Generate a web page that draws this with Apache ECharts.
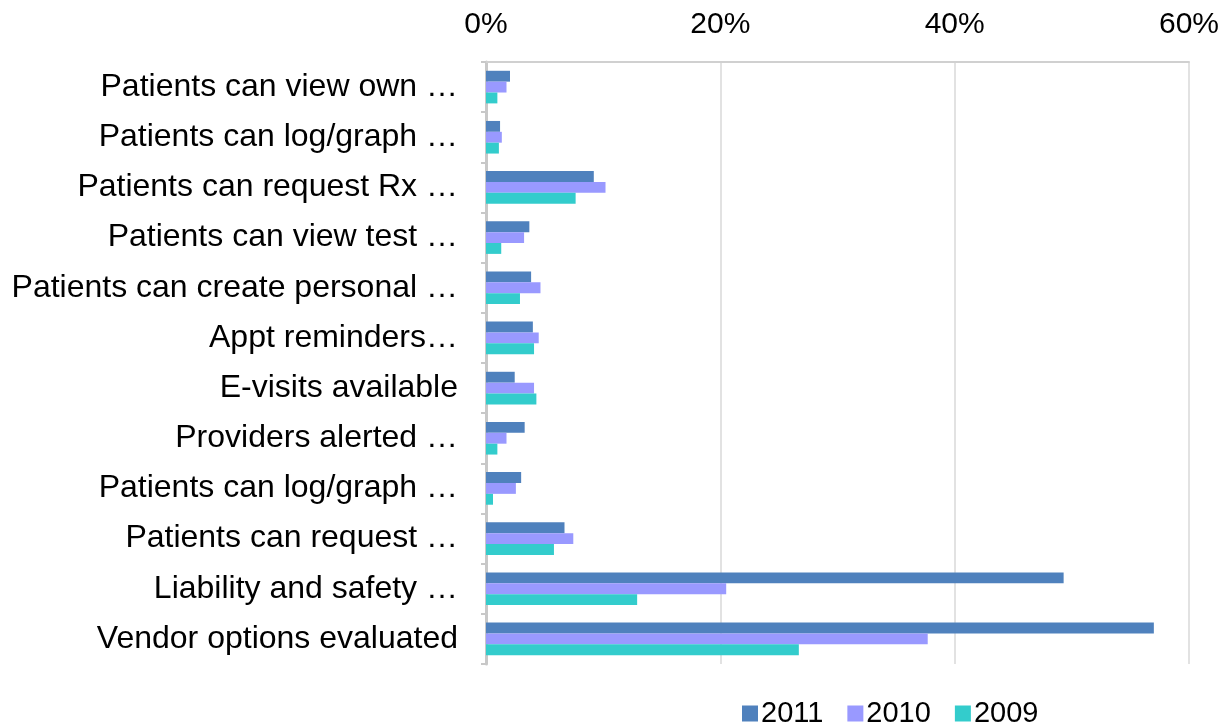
<!DOCTYPE html>
<html><head><meta charset="utf-8">
<script src="https://cdn.jsdelivr.net/npm/echarts@6/dist/echarts.min.js"></script>
<style>html,body{margin:0;padding:0;background:#fff}#c{width:1228px;height:726px}</style>
</head><body><div id="c"></div>
<script>
var categories = ["Patients can view own …","Patients can log/graph …","Patients can request Rx …","Patients can view test …","Patients can create personal …","Appt reminders…","E-visits available","Providers alerted …","Patients can log/graph …","Patients can request …","Liability and safety …","Vendor options evaluated"];
var s2011 = [2.05,1.2,9.2,3.7,3.85,4.0,2.45,3.3,3.0,6.7,49.3,57.0];
var s2010 = [1.75,1.35,10.2,3.25,4.65,4.5,4.1,1.75,2.55,7.45,20.5,37.7];
var s2009 = [0.97,1.1,7.65,1.3,2.9,4.1,4.3,0.97,0.6,5.8,12.9,26.7];
var seriesNames = ["2011","2010","2009"];
var colors = ["#4F81BD","#9999FF","#33CCCC"];
var font = "Liberation Sans, Arial, sans-serif";
var chart = echarts.init(document.getElementById('c'));
chart.setOption({
  animation:false,
  color: colors,
  textStyle:{fontFamily:font},
  grid:{left:486,right:39,top:62,bottom:62,containLabel:false},
  legend:{top:694,left:737,itemWidth:16,itemHeight:16,itemGap:24,icon:'rect',
    textStyle:{fontSize:29,color:'#000',fontFamily:font,padding:[0,0,0,-2]},data:seriesNames},
  xAxis:{type:'value',position:'top',min:0,max:60,interval:20,
    axisLabel:{formatter:'{value}%',fontSize:30,color:'#000',margin:22,fontFamily:font},
    axisLine:{show:true,lineStyle:{color:'#d0d0d0',width:2}},
    axisTick:{show:false},
    splitLine:{show:true,lineStyle:{color:'#d9d9d9',width:1.5}}},
  yAxis:{type:'category',inverse:true,data:categories,
    axisLabel:{fontSize:32,color:'#000',margin:28,fontFamily:font,padding:[12,0,0,0]},
    axisLine:{show:true,lineStyle:{color:'#c8c8c8',width:3}},
    axisTick:{show:true,length:5,lineStyle:{color:'#c8c8c8',width:2}}},
  series:[
    {name:seriesNames[0],type:'bar',data:s2011,barGap:'0%',barCategoryGap:'35%',itemStyle:{color:colors[0]}},
    {name:seriesNames[1],type:'bar',data:s2010,itemStyle:{color:colors[1]}},
    {name:seriesNames[2],type:'bar',data:s2009,itemStyle:{color:colors[2]}}
  ]
});
</script></body></html>
